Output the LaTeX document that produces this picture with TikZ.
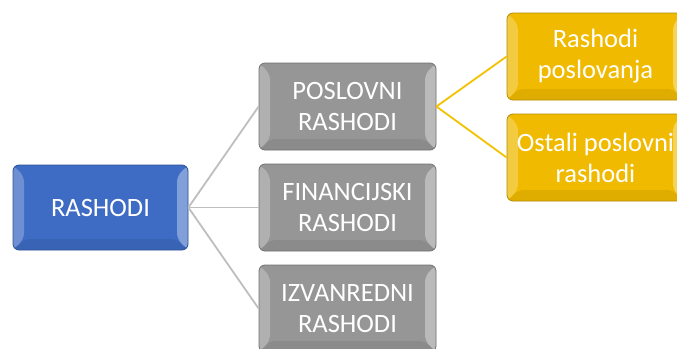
\documentclass[tikz,border=0pt]{standalone}
\usepackage{fontspec}
\setmainfont{Carlito}
\definecolor{rootblue}{RGB}{62,108,196}
\definecolor{midgrey}{RGB}{150,150,150}
\definecolor{leafgold}{RGB}{240,186,0}
\definecolor{greyline}{RGB}{190,190,190}
\definecolor{goldline}{RGB}{242,194,0}

\begin{document}
\begin{tikzpicture}[x=1pt,y=-1pt,
    box/.style={rectangle, rounded corners=6pt, minimum width=177pt, minimum height=87pt,
        inner sep=0pt, align=center, text=white, font=\fontsize{26.5}{31}\selectfont,
        fill=#1, draw=#1!75!black, line width=0.8pt,
        path picture={
            \fill[white,opacity=0.25] (path picture bounding box.north west) -- ++(11pt,-11pt)
                -- ([shift={(11pt,11pt)}]path picture bounding box.south west)
                -- (path picture bounding box.south west) -- cycle;
            \fill[white,opacity=0.35] (path picture bounding box.north east) -- ++(-11pt,-11pt)
                -- ([shift={(-11pt,11pt)}]path picture bounding box.south east)
                -- (path picture bounding box.south east) -- cycle;
            \fill[black,opacity=0.07] (path picture bounding box.south west) -- ++(11pt,11pt)
                -- ([shift={(-11pt,11pt)}]path picture bounding box.south east)
                -- (path picture bounding box.south east) -- cycle;
        }},
    link/.style={draw=#1, line width=1.8pt}]

            \useasboundingbox (0,0) rectangle (677,348);
            \clip (0,0) rectangle (677,348);

            % levels
            \node[box=rootblue, minimum width=175pt, minimum height=85pt] (rashodi) at (100.5,207.5) {RASHODI};

            \node[box=midgrey] (poslovni) at (347.5,106.5) {POSLOVNI\\RASHODI};
            \node[box=midgrey] (financ) at (347.5,207.5) {FINANCIJSKI\\RASHODI};
            \node[box=midgrey] (izvanr) at (347.5,308.5) {IZVANREDNI\\RASHODI};

            \node[box=leafgold] (poslovanja) at (595.5,56.5) {Rashodi\\poslovanja};
            \node[box=leafgold] (ostali) at (595.5,157.5) {Ostali poslovni\\rashodi};

            % connectors
            \draw[link=greyline] (rashodi.east) -- (poslovni.west);
            \draw[link=greyline] (rashodi.east) -- (financ.west);
            \draw[link=greyline] (rashodi.east) -- (izvanr.west);

            \draw[link=goldline] (poslovni.east) -- (poslovanja.west);
            \draw[link=goldline] (poslovni.east) -- (ostali.west);
        \end{tikzpicture}
\end{document}
